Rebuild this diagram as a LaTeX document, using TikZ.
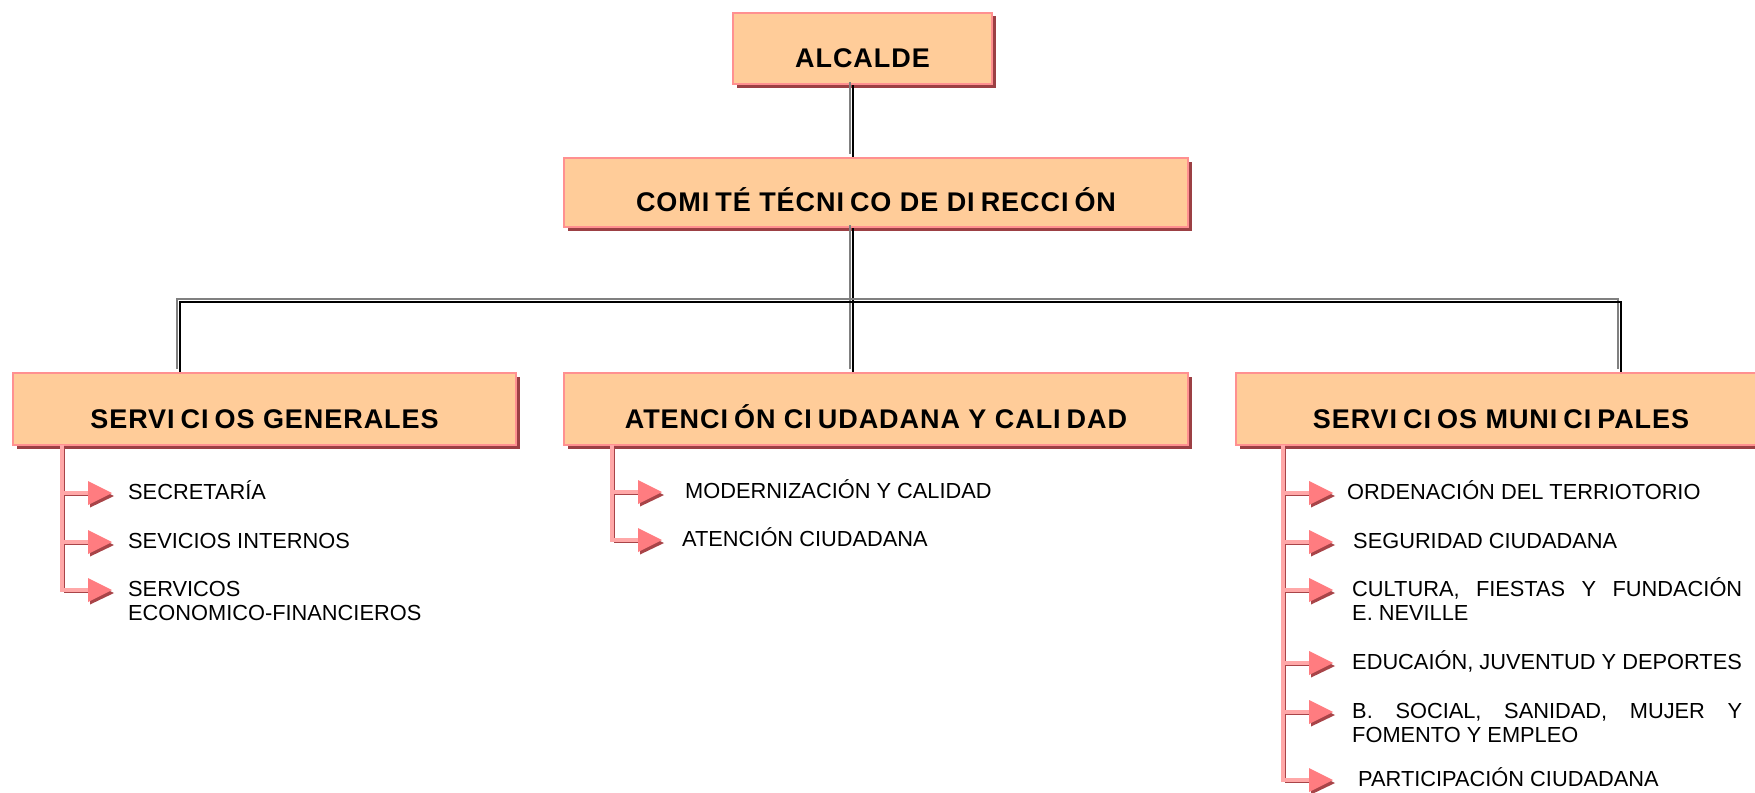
\documentclass[tikz,border=0pt]{standalone}
\usepackage{fontspec}
\setmainfont{Liberation Sans}
\newfontfamily\boxfont[LetterSpace=3.5]{Liberation Sans Bold}
\usetikzlibrary{calc,shadows}
\definecolor{boxfill}{HTML}{FFCC99}
\definecolor{boxedge}{HTML}{FF9090}
\definecolor{boxshadow}{HTML}{9C4044}
\definecolor{rosehead}{HTML}{FF7C80}
\definecolor{pinklight}{HTML}{FFA8A8}
\definecolor{pinkdark}{HTML}{A84448}
\newcommand\Ik{I\kern6pt}
\newcommand\dline[1]{%
  \draw[hilite, transform canvas={shift={(-3pt,3pt)}}] #1;
  \draw[mainline] #1;}
\newcommand\subline[1]{%
  \draw[sublight] #1;
  \draw[subdark, transform canvas={shift={(2.5pt,-2.5pt)}}] #1;}
\newcommand\itemarrow[2]{%
  \subline{(#1) -- ($(#2)+(-23,0)$)}
  \fill[pinkdark] ($(#2)+(-22,-8.5)$) -- ($(#2)+(2,3)$) -- ($(#2)+(-22,14.5)$) -- cycle;
  \fill[rosehead] ($(#2)+(-24,-12)$) -- (#2) -- ($(#2)+(-24,12)$) -- cycle;}
\begin{document}
\begin{tikzpicture}[x=1pt,y=-1pt,
  orgbox/.style={draw=boxedge, line width=2.2pt, fill=boxfill, inner sep=0pt,
    text height=38pt, text depth=0pt,
    font=\boxfont\fontsize{27pt}{31pt}\selectfont,
    drop shadow={shadow xshift=3.5pt, shadow yshift=-3.5pt, fill=boxshadow, opacity=1}},
  item/.style={anchor=north west, inner sep=0pt, align=left,
    font=\fontsize{21.8pt}{24pt}\selectfont},
  hilite/.style={draw=gray, line width=2pt},
  mainline/.style={draw=black, line width=2.4pt},
  sublight/.style={draw=pinklight, line width=3.2pt, line cap=rect},
  subdark/.style={draw=pinkdark, line width=1.8pt, line cap=rect},
]
\clip (0,0) rectangle (1755,792);
\fill[white] (0,0) rectangle (1755,792);

% boxes
\node[orgbox, minimum width=259pt, minimum height=71pt] (alc) at (862.5,48.5) {ALCALDE};
\node[orgbox, minimum width=624pt, minimum height=69pt] (com) at (876,192.5) {COM\Ik TÉ TÉCN\Ik CO DE D\Ik RECC\Ik ÓN};
\node[orgbox, minimum width=503pt, minimum height=72pt] (sg) at (264.5,409) {SERV\Ik C\Ik OS GENERALES};
\node[orgbox, minimum width=624pt, minimum height=72pt] (at) at (876,409) {ATENC\Ik ÓN C\Ik UDADANA Y CAL\Ik DAD};
\node[orgbox, minimum width=530pt, minimum height=72pt] (sm) at (1501,409) {SERV\Ik C\Ik OS MUN\Ik C\Ik PALES};

% main connectors
\coordinate (tx) at (853,0);
\coordinate (sgx) at (180,0);
\coordinate (smx) at (1621,0);
\coordinate (bar) at (853,302);
\dline{(alc.south -| tx) -- (com.north -| tx)}
\dline{(com.south -| tx) -- (at.north -| tx)}
\dline{(sg.north -| sgx) |- (bar) -| (sm.north -| smx)}

% item texts
\node[item] (sg1) at (128,479.3) {\rule{0pt}{20pt}SECRETARÍA};
\node[item] (sg2) at (128,528.3) {\rule{0pt}{20pt}SEVICIOS INTERNOS};
\node[item] (sg3) at (128,576.3) {\rule{0pt}{20pt}SERVICOS\\ECONOMICO-FINANCIEROS};
\node[item] (at1) at (685,478.3) {\rule{0pt}{20pt}MODERNIZACIÓN Y CALIDAD};
\node[item] (at2) at (682,526.3) {\rule{0pt}{20pt}ATENCIÓN CIUDADANA};
\node[item] (sm1) at (1347,479.3) {\rule{0pt}{20pt}ORDENACIÓN DEL TERRIOTORIO};
\node[item] (sm2) at (1353,528.3) {\rule{0pt}{20pt}SEGURIDAD CIUDADANA};
\node[item] (sm3) at (1352,576.3) {\rule{0pt}{20pt}\makebox[390pt][s]{CULTURA, FIESTAS Y FUNDACIÓN}\\E. NEVILLE};
\node[item] (sm4) at (1352,649.3) {\rule{0pt}{20pt}EDUCAIÓN, JUVENTUD Y DEPORTES};
\node[item] (sm5) at (1352,698.3) {\rule{0pt}{20pt}\makebox[390pt][s]{B. SOCIAL, SANIDAD, MUJER Y}\\FOMENTO Y EMPLEO};
\node[item] (sm6) at (1358,766.3) {\rule{0pt}{20pt}PARTICIPACIÓN CIUDADANA};

% sub connectors: start points on the vertical lines and arrow tips
\coordinate (sgs1) at (62,493);  \coordinate (sgt1) at (112,493);
\coordinate (sgs2) at (62,542);  \coordinate (sgt2) at (112,542);
\coordinate (sgs3) at (62,590);  \coordinate (sgt3) at (112,590);
\coordinate (ats1) at (612,492); \coordinate (att1) at (662,492);
\coordinate (ats2) at (612,540); \coordinate (att2) at (662,540);
\coordinate (sms1) at (1283,493); \coordinate (smt1) at (1333,493);
\coordinate (sms2) at (1283,542); \coordinate (smt2) at (1333,542);
\coordinate (sms3) at (1283,590); \coordinate (smt3) at (1333,590);
\coordinate (sms4) at (1283,663); \coordinate (smt4) at (1333,663);
\coordinate (sms5) at (1283,712); \coordinate (smt5) at (1333,712);
\coordinate (sms6) at (1283,780); \coordinate (smt6) at (1333,780);

\subline{(sg.south -| sgs3) -- (sgs3)}
\subline{(at.south -| ats2) -- (ats2)}
\subline{(sm.south -| sms6) -- (sms6)}

\itemarrow{sgs1}{sgt1}
\itemarrow{sgs2}{sgt2}
\itemarrow{sgs3}{sgt3}
\itemarrow{ats1}{att1}
\itemarrow{ats2}{att2}
\itemarrow{sms1}{smt1}
\itemarrow{sms2}{smt2}
\itemarrow{sms3}{smt3}
\itemarrow{sms4}{smt4}
\itemarrow{sms5}{smt5}
\itemarrow{sms6}{smt6}
\end{tikzpicture}
\end{document}
